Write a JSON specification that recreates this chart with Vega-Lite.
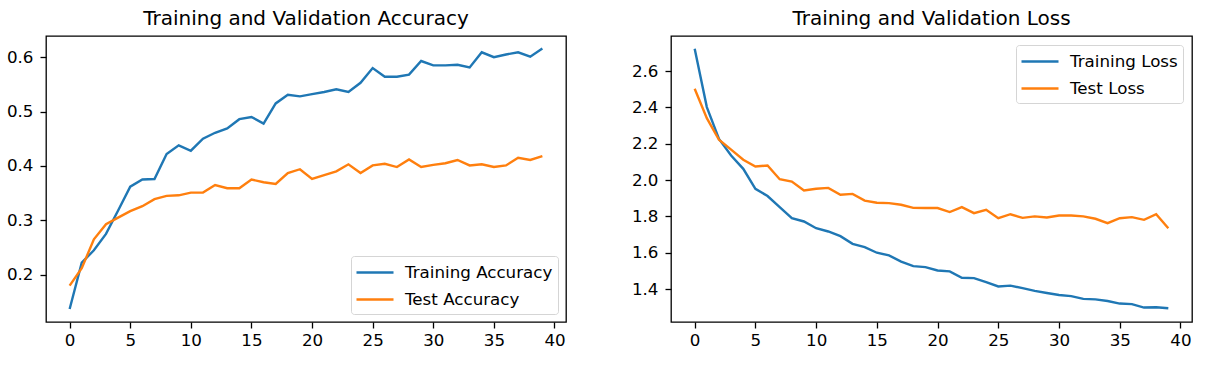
{
  "$schema": "https://vega.github.io/schema/vega-lite/v6.json",
  "padding": {"left": 5, "top": 8, "right": 5, "bottom": 5},
  "background": "white",
  "bounds": "flush",
  "spacing": 105,
  "datasets": {
    "acc": [
      {"epoch": 0, "series": "Training Accuracy", "value": 0.137},
      {"epoch": 1, "series": "Training Accuracy", "value": 0.222},
      {"epoch": 2, "series": "Training Accuracy", "value": 0.245},
      {"epoch": 3, "series": "Training Accuracy", "value": 0.275},
      {"epoch": 4, "series": "Training Accuracy", "value": 0.318},
      {"epoch": 5, "series": "Training Accuracy", "value": 0.362},
      {"epoch": 6, "series": "Training Accuracy", "value": 0.375},
      {"epoch": 7, "series": "Training Accuracy", "value": 0.376},
      {"epoch": 8, "series": "Training Accuracy", "value": 0.422},
      {"epoch": 9, "series": "Training Accuracy", "value": 0.438},
      {"epoch": 10, "series": "Training Accuracy", "value": 0.428},
      {"epoch": 11, "series": "Training Accuracy", "value": 0.450},
      {"epoch": 12, "series": "Training Accuracy", "value": 0.461},
      {"epoch": 13, "series": "Training Accuracy", "value": 0.469},
      {"epoch": 14, "series": "Training Accuracy", "value": 0.486},
      {"epoch": 15, "series": "Training Accuracy", "value": 0.490},
      {"epoch": 16, "series": "Training Accuracy", "value": 0.478},
      {"epoch": 17, "series": "Training Accuracy", "value": 0.515},
      {"epoch": 18, "series": "Training Accuracy", "value": 0.531},
      {"epoch": 19, "series": "Training Accuracy", "value": 0.528},
      {"epoch": 20, "series": "Training Accuracy", "value": 0.532},
      {"epoch": 21, "series": "Training Accuracy", "value": 0.536},
      {"epoch": 22, "series": "Training Accuracy", "value": 0.541},
      {"epoch": 23, "series": "Training Accuracy", "value": 0.536},
      {"epoch": 24, "series": "Training Accuracy", "value": 0.553},
      {"epoch": 25, "series": "Training Accuracy", "value": 0.580},
      {"epoch": 26, "series": "Training Accuracy", "value": 0.564},
      {"epoch": 27, "series": "Training Accuracy", "value": 0.564},
      {"epoch": 28, "series": "Training Accuracy", "value": 0.568},
      {"epoch": 29, "series": "Training Accuracy", "value": 0.593},
      {"epoch": 30, "series": "Training Accuracy", "value": 0.585},
      {"epoch": 31, "series": "Training Accuracy", "value": 0.585},
      {"epoch": 32, "series": "Training Accuracy", "value": 0.586},
      {"epoch": 33, "series": "Training Accuracy", "value": 0.581},
      {"epoch": 34, "series": "Training Accuracy", "value": 0.609},
      {"epoch": 35, "series": "Training Accuracy", "value": 0.600},
      {"epoch": 36, "series": "Training Accuracy", "value": 0.605},
      {"epoch": 37, "series": "Training Accuracy", "value": 0.609},
      {"epoch": 38, "series": "Training Accuracy", "value": 0.601},
      {"epoch": 39, "series": "Training Accuracy", "value": 0.616},
      {"epoch": 0, "series": "Test Accuracy", "value": 0.180},
      {"epoch": 1, "series": "Test Accuracy", "value": 0.212},
      {"epoch": 2, "series": "Test Accuracy", "value": 0.265},
      {"epoch": 3, "series": "Test Accuracy", "value": 0.293},
      {"epoch": 4, "series": "Test Accuracy", "value": 0.305},
      {"epoch": 5, "series": "Test Accuracy", "value": 0.317},
      {"epoch": 6, "series": "Test Accuracy", "value": 0.326},
      {"epoch": 7, "series": "Test Accuracy", "value": 0.339},
      {"epoch": 8, "series": "Test Accuracy", "value": 0.345},
      {"epoch": 9, "series": "Test Accuracy", "value": 0.346},
      {"epoch": 10, "series": "Test Accuracy", "value": 0.351},
      {"epoch": 11, "series": "Test Accuracy", "value": 0.351},
      {"epoch": 12, "series": "Test Accuracy", "value": 0.365},
      {"epoch": 13, "series": "Test Accuracy", "value": 0.359},
      {"epoch": 14, "series": "Test Accuracy", "value": 0.359},
      {"epoch": 15, "series": "Test Accuracy", "value": 0.375},
      {"epoch": 16, "series": "Test Accuracy", "value": 0.370},
      {"epoch": 17, "series": "Test Accuracy", "value": 0.367},
      {"epoch": 18, "series": "Test Accuracy", "value": 0.387},
      {"epoch": 19, "series": "Test Accuracy", "value": 0.394},
      {"epoch": 20, "series": "Test Accuracy", "value": 0.376},
      {"epoch": 21, "series": "Test Accuracy", "value": 0.383},
      {"epoch": 22, "series": "Test Accuracy", "value": 0.390},
      {"epoch": 23, "series": "Test Accuracy", "value": 0.403},
      {"epoch": 24, "series": "Test Accuracy", "value": 0.387},
      {"epoch": 25, "series": "Test Accuracy", "value": 0.401},
      {"epoch": 26, "series": "Test Accuracy", "value": 0.404},
      {"epoch": 27, "series": "Test Accuracy", "value": 0.398},
      {"epoch": 28, "series": "Test Accuracy", "value": 0.412},
      {"epoch": 29, "series": "Test Accuracy", "value": 0.398},
      {"epoch": 30, "series": "Test Accuracy", "value": 0.402},
      {"epoch": 31, "series": "Test Accuracy", "value": 0.405},
      {"epoch": 32, "series": "Test Accuracy", "value": 0.411},
      {"epoch": 33, "series": "Test Accuracy", "value": 0.401},
      {"epoch": 34, "series": "Test Accuracy", "value": 0.403},
      {"epoch": 35, "series": "Test Accuracy", "value": 0.398},
      {"epoch": 36, "series": "Test Accuracy", "value": 0.401},
      {"epoch": 37, "series": "Test Accuracy", "value": 0.415},
      {"epoch": 38, "series": "Test Accuracy", "value": 0.411},
      {"epoch": 39, "series": "Test Accuracy", "value": 0.418}
    ],
    "loss": [
      {"epoch": 0, "series": "Training Loss", "value": 2.723},
      {"epoch": 1, "series": "Training Loss", "value": 2.402},
      {"epoch": 2, "series": "Training Loss", "value": 2.227},
      {"epoch": 3, "series": "Training Loss", "value": 2.135},
      {"epoch": 4, "series": "Training Loss", "value": 2.062},
      {"epoch": 5, "series": "Training Loss", "value": 1.952},
      {"epoch": 6, "series": "Training Loss", "value": 1.912},
      {"epoch": 7, "series": "Training Loss", "value": 1.851},
      {"epoch": 8, "series": "Training Loss", "value": 1.790},
      {"epoch": 9, "series": "Training Loss", "value": 1.772},
      {"epoch": 10, "series": "Training Loss", "value": 1.735},
      {"epoch": 11, "series": "Training Loss", "value": 1.717},
      {"epoch": 12, "series": "Training Loss", "value": 1.691},
      {"epoch": 13, "series": "Training Loss", "value": 1.649},
      {"epoch": 14, "series": "Training Loss", "value": 1.631},
      {"epoch": 15, "series": "Training Loss", "value": 1.600},
      {"epoch": 16, "series": "Training Loss", "value": 1.585},
      {"epoch": 17, "series": "Training Loss", "value": 1.551},
      {"epoch": 18, "series": "Training Loss", "value": 1.526},
      {"epoch": 19, "series": "Training Loss", "value": 1.521},
      {"epoch": 20, "series": "Training Loss", "value": 1.502},
      {"epoch": 21, "series": "Training Loss", "value": 1.497},
      {"epoch": 22, "series": "Training Loss", "value": 1.462},
      {"epoch": 23, "series": "Training Loss", "value": 1.460},
      {"epoch": 24, "series": "Training Loss", "value": 1.438},
      {"epoch": 25, "series": "Training Loss", "value": 1.414},
      {"epoch": 26, "series": "Training Loss", "value": 1.419},
      {"epoch": 27, "series": "Training Loss", "value": 1.405},
      {"epoch": 28, "series": "Training Loss", "value": 1.390},
      {"epoch": 29, "series": "Training Loss", "value": 1.378},
      {"epoch": 30, "series": "Training Loss", "value": 1.367},
      {"epoch": 31, "series": "Training Loss", "value": 1.361},
      {"epoch": 32, "series": "Training Loss", "value": 1.346},
      {"epoch": 33, "series": "Training Loss", "value": 1.343},
      {"epoch": 34, "series": "Training Loss", "value": 1.334},
      {"epoch": 35, "series": "Training Loss", "value": 1.320},
      {"epoch": 36, "series": "Training Loss", "value": 1.317},
      {"epoch": 37, "series": "Training Loss", "value": 1.298},
      {"epoch": 38, "series": "Training Loss", "value": 1.300},
      {"epoch": 39, "series": "Training Loss", "value": 1.294},
      {"epoch": 0, "series": "Test Loss", "value": 2.503},
      {"epoch": 1, "series": "Test Loss", "value": 2.341},
      {"epoch": 2, "series": "Test Loss", "value": 2.222},
      {"epoch": 3, "series": "Test Loss", "value": 2.168},
      {"epoch": 4, "series": "Test Loss", "value": 2.112},
      {"epoch": 5, "series": "Test Loss", "value": 2.075},
      {"epoch": 6, "series": "Test Loss", "value": 2.080},
      {"epoch": 7, "series": "Test Loss", "value": 2.005},
      {"epoch": 8, "series": "Test Loss", "value": 1.992},
      {"epoch": 9, "series": "Test Loss", "value": 1.943},
      {"epoch": 10, "series": "Test Loss", "value": 1.952},
      {"epoch": 11, "series": "Test Loss", "value": 1.957},
      {"epoch": 12, "series": "Test Loss", "value": 1.919},
      {"epoch": 13, "series": "Test Loss", "value": 1.924},
      {"epoch": 14, "series": "Test Loss", "value": 1.887},
      {"epoch": 15, "series": "Test Loss", "value": 1.875},
      {"epoch": 16, "series": "Test Loss", "value": 1.873},
      {"epoch": 17, "series": "Test Loss", "value": 1.864},
      {"epoch": 18, "series": "Test Loss", "value": 1.847},
      {"epoch": 19, "series": "Test Loss", "value": 1.846},
      {"epoch": 20, "series": "Test Loss", "value": 1.846},
      {"epoch": 21, "series": "Test Loss", "value": 1.824},
      {"epoch": 22, "series": "Test Loss", "value": 1.851},
      {"epoch": 23, "series": "Test Loss", "value": 1.818},
      {"epoch": 24, "series": "Test Loss", "value": 1.836},
      {"epoch": 25, "series": "Test Loss", "value": 1.790},
      {"epoch": 26, "series": "Test Loss", "value": 1.812},
      {"epoch": 27, "series": "Test Loss", "value": 1.792},
      {"epoch": 28, "series": "Test Loss", "value": 1.800},
      {"epoch": 29, "series": "Test Loss", "value": 1.794},
      {"epoch": 30, "series": "Test Loss", "value": 1.805},
      {"epoch": 31, "series": "Test Loss", "value": 1.805},
      {"epoch": 32, "series": "Test Loss", "value": 1.800},
      {"epoch": 33, "series": "Test Loss", "value": 1.787},
      {"epoch": 34, "series": "Test Loss", "value": 1.763},
      {"epoch": 35, "series": "Test Loss", "value": 1.790},
      {"epoch": 36, "series": "Test Loss", "value": 1.796},
      {"epoch": 37, "series": "Test Loss", "value": 1.781},
      {"epoch": 38, "series": "Test Loss", "value": 1.812},
      {"epoch": 39, "series": "Test Loss", "value": 1.735}
    ]
  },
  "hconcat": [
    {
      "width": 520,
      "height": 286,
      "title": "Training and Validation Accuracy",
      "data": {"name": "acc"},
      "mark": {"type": "line", "strokeWidth": 2.4, "clip": true},
      "encoding": {
        "x": {"field": "epoch", "type": "quantitative",
              "scale": {"domain": [-1.95, 40.95], "nice": false, "zero": false},
              "axis": {"values": [0, 5, 10, 15, 20, 25, 30, 35, 40], "title": null}},
        "y": {"field": "value", "type": "quantitative",
              "scale": {"domain": [0.113, 0.639], "nice": false, "zero": false},
              "axis": {"values": [0.2, 0.3, 0.4, 0.5, 0.6], "format": ".1f", "title": null, "labelPadding": 7}},
        "color": {"field": "series", "type": "nominal",
                  "scale": {"domain": ["Training Accuracy", "Test Accuracy"], "range": ["#1f77b4", "#ff7f0e"]},
                  "legend": {"orient": "bottom-right", "title": null, "offset": 8}}
      }
    },
    {
      "width": 521,
      "height": 286,
      "title": "Training and Validation Loss",
      "data": {"name": "loss"},
      "mark": {"type": "line", "strokeWidth": 2.4, "clip": true},
      "encoding": {
        "x": {"field": "epoch", "type": "quantitative",
              "scale": {"domain": [-1.95, 40.95], "nice": false, "zero": false},
              "axis": {"values": [0, 5, 10, 15, 20, 25, 30, 35, 40], "title": null}},
        "y": {"field": "value", "type": "quantitative",
              "scale": {"domain": [1.2185, 2.7935], "nice": false, "zero": false},
              "axis": {"values": [1.4, 1.6, 1.8, 2.0, 2.2, 2.4, 2.6], "format": ".1f", "title": null, "labelPadding": 7}},
        "color": {"field": "series", "type": "nominal",
                  "scale": {"domain": ["Training Loss", "Test Loss"], "range": ["#1f77b4", "#ff7f0e"]},
                  "legend": {"orient": "top-right", "title": null, "offset": 9}}
      }
    }
  ],
  "resolve": {"scale": {"color": "independent"}},
  "config": {
    "font": "DejaVu Sans",
    "view": {"stroke": "black", "strokeWidth": 1.3},
    "axis": {
      "domain": false,
      "grid": false,
      "tickColor": "black",
      "tickSize": 6,
      "tickWidth": 1.3,
      "labelFont": "DejaVu Sans",
      "labelFontSize": 16.7,
      "labelColor": "black",
      "labelPadding": 4
    },
    "title": {"font": "DejaVu Sans", "fontSize": 20, "fontWeight": "normal", "color": "black", "offset": 7, "anchor": "middle"},
    "legend": {
      "labelFont": "DejaVu Sans",
      "labelFontSize": 16.7,
      "labelColor": "black",
      "symbolType": "M-1.1,0H2.6",
      "symbolSize": 400,
      "symbolStrokeWidth": 2.4,
      "labelOffset": 26,
      "rowPadding": 6,
      "padding": 5,
      "cornerRadius": 3,
      "strokeColor": "#d5d5d5",
      "fillColor": "white"
    }
  }
}
